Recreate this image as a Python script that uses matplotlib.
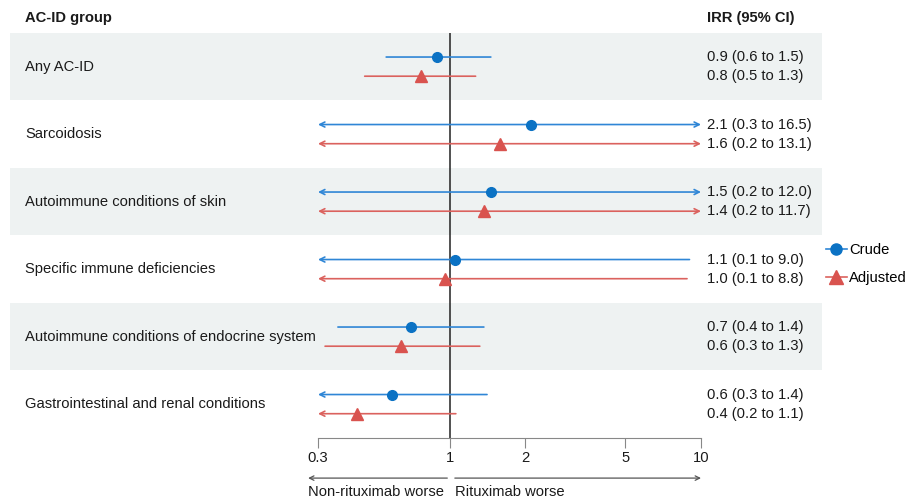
import matplotlib.pyplot as plt
from matplotlib.lines import Line2D
from matplotlib.patches import Rectangle
import matplotlib.transforms as mtransforms

plt.rcParams['font.family'] = ['Liberation Sans', 'DejaVu Sans']

# Data
groups = ['Any AC-ID', 'Sarcoidosis', 'Autoimmune conditions of skin',
          'Specific immune deficiencies', 'Autoimmune conditions of endocrine system',
          'Gastrointestinal and renal conditions']
crude_est = [0.89, 2.11, 1.46, 1.05, 0.70, 0.59]
crude_lo = [0.56, 0.27, 0.20, 0.10, 0.36, 0.26]
crude_hi = [1.46, 16.5, 12.0, 9.0, 1.37, 1.41]
adj_est = [0.77, 1.59, 1.37, 0.96, 0.64, 0.43]
adj_lo = [0.46, 0.20, 0.20, 0.10, 0.32, 0.20]
adj_hi = [1.27, 13.1, 11.7, 8.8, 1.32, 1.06]
xticks = [0.3, 1, 2, 5, 10]

blue = '#0B72C4'
blue_line = '#2F86D6'
red = '#D9534F'
red_line = '#DB625E'
band = '#EEF2F2'
txt = '#1A1A1A'
XMIN, XMAX = 0.3, 10
FS = 10.6

fig = plt.figure(figsize=(9.05, 4.98), dpi=100)
ax = fig.add_axes([318 / 905, 1 - 438 / 498, 383 / 905, 405 / 498])
ax.set_xscale('log')
ax.set_xlim(XMIN, XMAX)
ax.set_ylim(len(groups), 0)

trans = mtransforms.blended_transform_factory(ax.transAxes, ax.transData)
for i in range(len(groups)):
    if i % 2 == 0:
        ax.add_patch(Rectangle((-0.804, i), 2.12, 1, transform=trans,
                               facecolor=band, edgecolor='none', clip_on=False, zorder=0))

ax.axvline(1, color='#222222', lw=1.1, zorder=1)


def draw_ci(y, est, lo, hi, line_c, mark_c, marker, ms):
    left = max(lo, XMIN)
    right = min(hi, XMAX)
    if lo < XMIN and hi > XMAX:
        style = '<->'
    elif lo < XMIN:
        style = '<-'
    elif hi > XMAX:
        style = '->'
    else:
        style = '-'
    ax.annotate('', xy=(right, y), xytext=(left, y),
                arrowprops=dict(arrowstyle=style, color=line_c, lw=1.2,
                                shrinkA=0, shrinkB=0, mutation_scale=9),
                annotation_clip=False, zorder=2)
    ax.plot([est], [y], marker=marker, color=mark_c, ms=ms, zorder=3, clip_on=False)


for i in range(len(groups)):
    yc = i + 0.356
    ya = i + 0.64
    draw_ci(yc, crude_est[i], crude_lo[i], crude_hi[i], blue_line, blue, 'o', 7)
    draw_ci(ya, adj_est[i], adj_lo[i], adj_hi[i], red_line, red, '^', 8.5)
    fig.text(25 / 905, 1 - (33 + 67.5 * (i + 0.5)) / 498, groups[i],
             fontsize=FS, va='center', ha='left', color=txt)
    ax.text(1.016, yc, f'{crude_est[i]:.1f} ({crude_lo[i]:.1f} to {crude_hi[i]:.1f})',
            transform=trans, fontsize=FS, va='center', ha='left', color=txt)
    ax.text(1.016, ya, f'{adj_est[i]:.1f} ({adj_lo[i]:.1f} to {adj_hi[i]:.1f})',
            transform=trans, fontsize=FS, va='center', ha='left', color=txt)

fig.text(25 / 905, 1 - 18 / 498, 'AC-ID group', fontsize=FS, fontweight='bold',
         va='center', ha='left', color=txt)
fig.text(707 / 905, 1 - 18 / 498, 'IRR (95% CI)', fontsize=FS, fontweight='bold',
         va='center', ha='left', color=txt)

# axis styling
for s in ['top', 'right', 'left']:
    ax.spines[s].set_visible(False)
ax.spines['bottom'].set_color('#888888')
ax.spines['bottom'].set_bounds(XMIN, XMAX)
ax.set_yticks([])
ax.set_xticks(xticks)
ax.set_xticklabels([str(t) for t in xticks])
ax.xaxis.set_minor_locator(plt.NullLocator())
ax.tick_params(axis='x', direction='out', length=7, color='#888888',
               labelsize=FS, labelcolor=txt, pad=2)

# direction arrows
ax.annotate('', xy=(0.274, -0.099), xytext=(0.98, -0.099),
            xycoords=('data', 'axes fraction'), textcoords=('data', 'axes fraction'),
            arrowprops=dict(arrowstyle='->', color='#555555', lw=0.9, shrinkA=0, shrinkB=0,
                            mutation_scale=8), annotation_clip=False)
ax.annotate('', xy=(10, -0.099), xytext=(1.05, -0.099),
            xycoords=('data', 'axes fraction'), textcoords=('data', 'axes fraction'),
            arrowprops=dict(arrowstyle='->', color='#555555', lw=0.9, shrinkA=0, shrinkB=0,
                            mutation_scale=8), annotation_clip=False)
fig.text(308 / 905, 1 - 492 / 498, 'Non-rituximab worse', fontsize=FS,
         va='center', ha='left', color=txt)
fig.text(455 / 905, 1 - 492 / 498, 'Rituximab worse', fontsize=FS,
         va='center', ha='left', color=txt)

# legend
handles = [Line2D([], [], color=blue_line, marker='o', markerfacecolor=blue,
                  markeredgecolor=blue, ms=8, lw=1.2),
           Line2D([], [], color=red_line, marker='^', markerfacecolor=red,
                  markeredgecolor=red, ms=9.5, lw=1.2)]
fig.legend(handles, ['Crude', 'Adjusted'], loc='center left',
           bbox_to_anchor=(826 / 905, 1 - 264 / 498), frameon=False,
           fontsize=FS, handlelength=1.4, handletextpad=0.15, labelspacing=0.95,
           borderaxespad=0, borderpad=0)

fig.savefig('out.png', dpi=100)
